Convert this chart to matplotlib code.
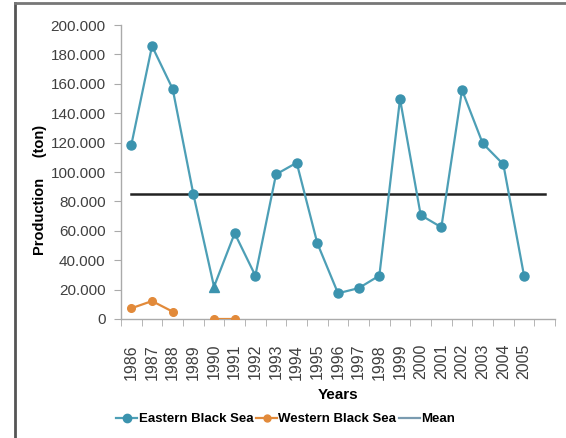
import matplotlib.pyplot as plt
from matplotlib.lines import Line2D
import numpy as np

# data
years = ['1986', '1987', '1988', '1989', '1990', '1991', '1992', '1993', '1994', '1995',
         '1996', '1997', '1998', '1999', '2000', '2001', '2002', '2003', '2004', '2005']
eastern = [118500, 185700, 156500, 85000, 22000, 58300, 29500, 98400, 106300, 51500,
           17500, 21000, 29500, 149700, 70700, 62400, 155800, 119500, 105200, 29500]
western = [7300, 12200, 5000, np.nan, 0, 0]
mean_value = 85000

teal = '#3b93ae'
orange = '#e28a3a'
tick_grey = '#404040'

plt.rcParams['font.family'] = ['Liberation Sans', 'DejaVu Sans']

fig = plt.figure(figsize=(5.66, 4.38), dpi=100)
ax = fig.add_axes([0.2138, 0.2717, 0.7668, 0.6712])

x = np.arange(len(years))
circle_pts = [i for i in range(len(years)) if i != 4]
ax.plot(x, eastern, color='#4d9fb6', lw=1.6, marker='o', ms=6.5,
        mfc=teal, mec=teal, markevery=circle_pts, zorder=3)
# 1990 point is drawn with a triangle in the original
ax.plot(x[4], eastern[4], marker='^', ms=6.5, color=teal, zorder=4)
ax.plot(x[:len(western)], western, color=orange, lw=1.6, marker='o', ms=5.5,
        mfc=orange, mec=orange, zorder=3)
ax.plot([0, 20], [mean_value, mean_value], color='#222222', lw=1.8, zorder=2)

ax.set_xlim(-0.5, 20.5)
ax.set_ylim(0, 200000)
ax.set_yticks(np.arange(0, 200001, 20000))
ax.set_yticklabels(['0'] + ['%d.000' % (v // 1000) for v in range(20000, 200001, 20000)])
ax.set_xticks(x)
ax.set_xticklabels(years, rotation=90)
ax.set_xticks(np.arange(-0.5, 21, 1), minor=True)
ax.tick_params(axis='x', which='major', length=0, pad=18, labelsize=11.5, colors=tick_grey)
ax.tick_params(axis='x', which='minor', length=5, color='#aaaaaa', direction='out')
ax.tick_params(axis='y', length=5, color='#aaaaaa', labelsize=11, colors=tick_grey, pad=6)
for s in ['top', 'right']:
    ax.spines[s].set_visible(False)
for s in ['left', 'bottom']:
    ax.spines[s].set_color('#aaaaaa')
    ax.spines[s].set_linewidth(1.0)

ax.set_xlabel('Years', fontsize=11, fontweight='bold', labelpad=6)
fig.text(0.071, 0.566, 'Production     (ton)', rotation=90, fontsize=10.5,
         fontweight='bold', ha='center', va='center')

handles = [Line2D([], [], color='#4d9fb6', lw=1.6, marker='o', ms=6, mfc=teal, mec=teal),
           Line2D([], [], color=orange, lw=1.6, marker='o', ms=5, mfc=orange, mec=orange),
           Line2D([], [], color='#7a9bb0', lw=1.6)]
fig.legend(handles, ['Eastern Black Sea', 'Western Black Sea', 'Mean'],
           loc='center', bbox_to_anchor=(0.505, 0.043), ncol=3, frameon=False,
           handlelength=1.6, handletextpad=0.1, columnspacing=0.2,
           prop={'weight': 'bold', 'size': 9.5})

# outer frame (left and top edges)
fig.add_artist(Line2D([0.026, 0.026], [0.0, 0.993], color='#555555', lw=2.0))
fig.add_artist(Line2D([0.026, 1.0], [0.993, 0.993], color='#777777', lw=2.0))

fig.savefig('out.png', dpi=100)
